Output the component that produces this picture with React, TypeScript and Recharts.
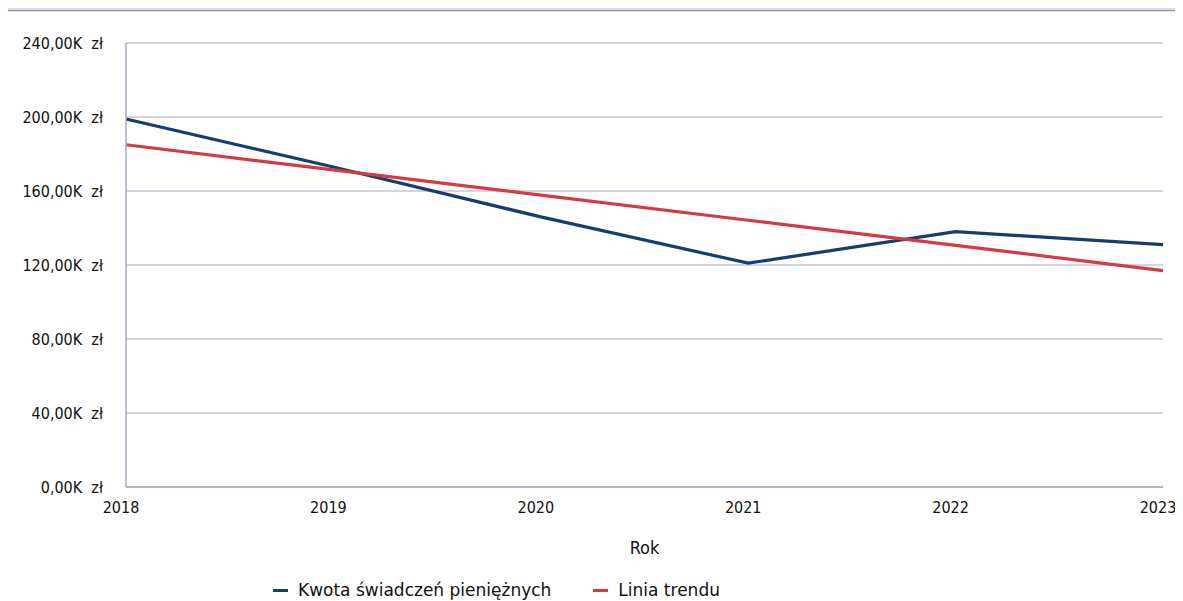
import React from "react";
import { CartesianGrid, Line, LineChart, XAxis, YAxis } from "recharts";

const years = ["2018", "2019", "2020", "2021", "2022", "2023"];
const kwota = [198900, 173000, 146000, 121000, 138000, 131000];
const trend = [185000, 171400, 157800, 144200, 130600, 117000];
const yTicks = [0, 40000, 80000, 120000, 160000, 200000, 240000];

const seriesNames = ["Kwota świadczeń pieniężnych", "Linia trendu"];
const colors = ["#153e6f", "#d33b40"];
const gridColor = "#a9a9c6";
const font = "'DejaVu Sans Condensed', 'DejaVu Sans', sans-serif";
const legendFont = "'DejaVu Sans', sans-serif";

const data = years.map((y, i) => ({ year: y, kwota: kwota[i], trend: trend[i] }));

const fmt = (v: number) => (v / 1000).toFixed(2).replace(".", ",") + "K\u00A0\u00A0zł";

export default function App() {
  return (
    <div style={{ margin: "-8px -8px 0 -8px", position: "relative", width: 1183, height: 601, background: "#fff" }}>
      <svg width={1183} height={601} style={{ position: "absolute", left: 0, top: 0 }}>
        {/* title sits above the visible area, only its descenders show */}
        <text x={635} y={2} textAnchor="middle" fontFamily={font} fontSize={17} fill="#111">
          Kwota świadczeń pieniężnych (zł)
        </text>
        <line x1={5} x2={1183} y1={8} y2={8} stroke="#c9c9dc" strokeWidth={1.5} />
        <line x1={5} x2={1183} y1={10.5} y2={10.5} stroke="#8c8cae" strokeWidth={1.5} />
      </svg>
      <div style={{ position: "absolute", left: 0, top: 0 }}>
        <LineChart
          width={1183}
          height={601}
          data={data}
          margin={{ top: 43, right: 20, left: 0, bottom: 0 }}
        >
          <CartesianGrid vertical={false} stroke={gridColor} strokeWidth={1.2} />
          <XAxis
            dataKey="year"
            axisLine={{ stroke: gridColor, strokeWidth: 1.5 }}
            tickLine={false}
            tick={{ fontFamily: font, fontSize: 16, fill: "#111", dx: -5 }}
            tickMargin={9}
            height={114}
            interval={0}
            label={{ value: "Rok", position: "insideBottom", offset: 47, fontFamily: font, fontSize: 18, fill: "#111" }}
          />
          <YAxis
            width={126}
            domain={[0, 240000]}
            ticks={yTicks}
            tickFormatter={fmt}
            axisLine={{ stroke: gridColor, strokeWidth: 1.5 }}
            tickLine={false}
            tickMargin={17}
            tick={{ fontFamily: font, fontSize: 16, fill: "#111" }}
          />
          <Line dataKey="kwota" name={seriesNames[0]} stroke={colors[0]} strokeWidth={3.2} dot={false} isAnimationActive={false} />
          <Line dataKey="trend" name={seriesNames[1]} stroke={colors[1]} strokeWidth={3.2} dot={false} isAnimationActive={false} />
        </LineChart>
      </div>
      <div
        style={{
          position: "absolute",
          left: 273,
          top: 579,
          height: 22,
          display: "flex",
          gap: 42,
          fontFamily: legendFont,
          fontSize: 17,
          lineHeight: "22px",
          color: "#111",
          whiteSpace: "nowrap",
        }}
      >
        {seriesNames.map((n, i) => (
          <div key={n} style={{ display: "flex", alignItems: "center" }}>
            <span style={{ display: "inline-block", width: 15, height: 3, background: colors[i], marginRight: 10 }} />
            {n}
          </div>
        ))}
      </div>
    </div>
  );
}
